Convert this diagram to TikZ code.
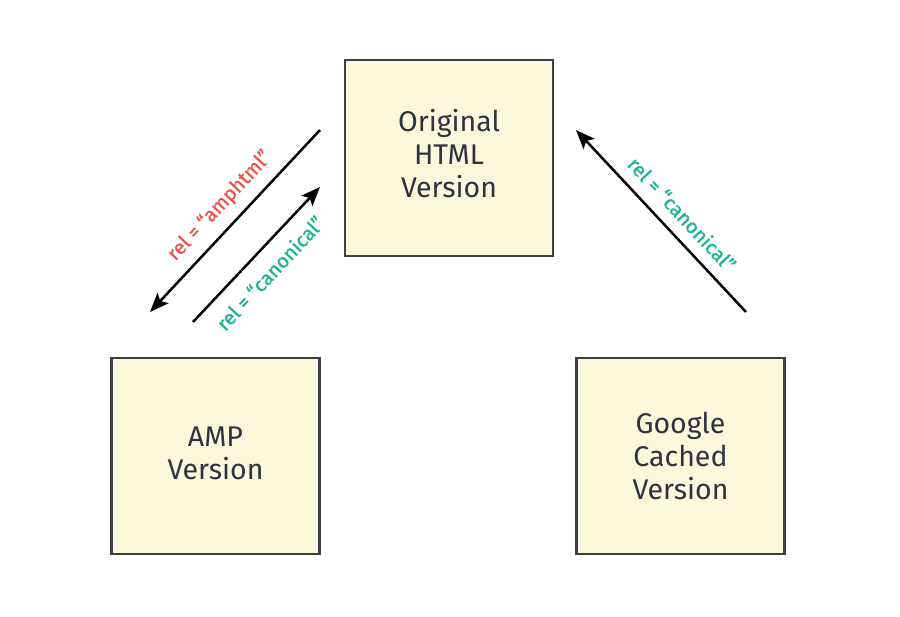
\documentclass[tikz,border=0pt]{standalone}
\usepackage{fontspec}
\setmainfont{Fira Sans}
\newfontfamily\relfont{Fira Sans}[FakeBold=0.8]
\usepackage{tikz}
\usetikzlibrary{arrows.meta}
\usepackage{xcolor}
\definecolor{boxfill}{HTML}{FCF8DC}
\definecolor{boxline}{HTML}{3A3F4A}
\definecolor{textdark}{HTML}{2D3340}
\definecolor{relred}{HTML}{E8544A}
\definecolor{relteal}{HTML}{1AB394}

\begin{document}
\begin{tikzpicture}[x=1pt, y=-1pt, page/.style={rectangle,draw=boxline,fill=boxfill,line width=2.5pt,minimum width=208pt,minimum height=196pt,inner sep=0,align=center,text=textdark,font=\fontsize{28.5}{33}\selectfont}, link/.style={line width=2.5pt,-{Stealth[length=19pt,width=15pt,inset=4pt]}}, rel/.style={font=\relfont\fontsize{20}{24}\selectfont,inner sep=0}]
        \useasboundingbox (0,0) rectangle (900,617);
        \node at (449,158) [page] (orig) {\raisebox{3pt}{\begin{tabular}{@{}c@{}}Original\\HTML\\Version\end{tabular}}};
        \node at (215.5,456) [page] (amp) {\raisebox{2pt}{\begin{tabular}{@{}c@{}}AMP\\Version\end{tabular}}};
        \node at (680.5,456) [page] (cache) {Google\\Cached\\Version};
        \coordinate (amphtml0) at (320,130);
        \coordinate (amphtml1) at (150,312);
        \coordinate (canon0) at (193,322);
        \coordinate (canon1) at (320,187);
        \coordinate (cache0) at (746,312);
        \coordinate (cache1) at (576,130);
        \draw[link] (amphtml0) -- (amphtml1);
        \draw[link] (canon0) -- (canon1);
        \draw[link] (cache0) -- (cache1);
        \node at (220,206) [rel,rotate=47,text=relred] (amphtmltext) {rel = “amphtml”};
        \node at (270,273) [rel,rotate=47,text=relteal] (canontext) {rel = “canonical”};
        \node at (682,214) [rel,rotate=-47,text=relteal] (cachetext) {rel = “canonical”};
    \end{tikzpicture}
\end{document}
